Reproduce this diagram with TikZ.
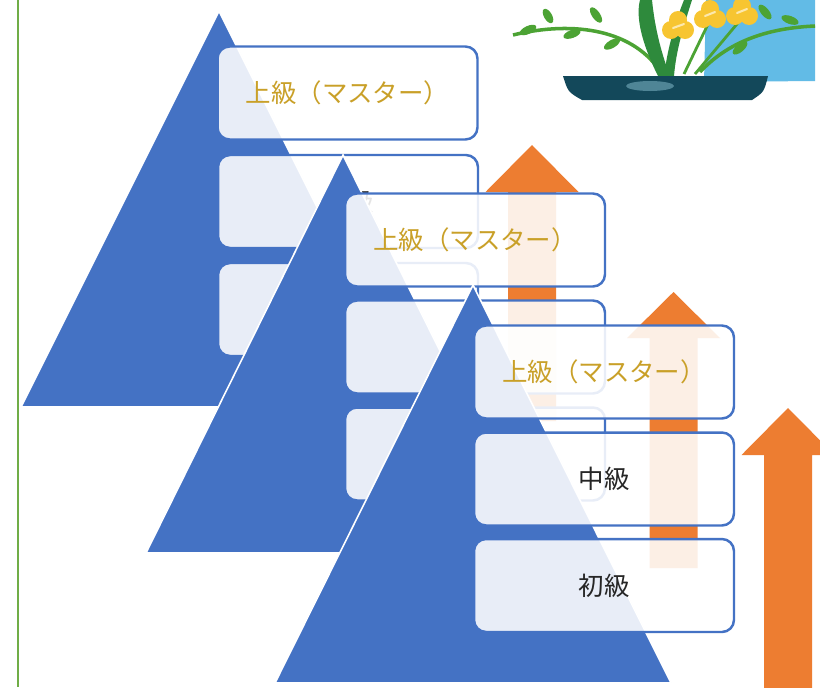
\documentclass[tikz,border=0pt]{standalone}
\usepackage{fontspec}
\newfontfamily\jp{Noto Sans CJK JP}
\usepackage{xcolor}
\usepackage{tikz}

\definecolor{pyrblue}{HTML}{4472C4}
\definecolor{arrorange}{HTML}{ED7D31}
\definecolor{gold}{HTML}{C9A028}
\definecolor{rulegreen}{HTML}{70AD47}
\definecolor{skyblue}{HTML}{62BBE6}
\definecolor{bowlteal}{HTML}{13485A}
\definecolor{bowlspot}{HTML}{4F8596}
\definecolor{stemgreen}{HTML}{4CA334}
\definecolor{bladegreen}{HTML}{2E8A3C}
\definecolor{petal}{HTML}{F7C531}

\tikzset{
	pyramid/.style={fill=pyrblue,draw=white,line width=0.9pt},
	stepbox/.style={draw=pyrblue,line width=1.4pt,fill=white,fill opacity=0.88,text opacity=1,
		rounded corners=2.4mm,minimum width=5.2cm,minimum height=1.86cm,
		font=\jp\fontsize{14.5}{17}\selectfont,text=black!85},
	master/.style={text=gold},
	upar/.style={fill=arrorange},
	leaf/.style={fill=stemgreen},
	bloom/.style={fill=petal},
}

\begin{document}
\begin{tikzpicture}[x=0.02cm,y=-0.02cm]
	\useasboundingbox (0,0) rectangle (820,687);
	\clip (0,0) rectangle (820,687);
	\fill[white] (0,0) rectangle (820,687);
	\draw[rulegreen,line width=1.4pt] (18,0) -- (18,687);

	% ikebana in the corner
	\fill[skyblue] (706,0) -- (815,0) -- (815,81) -- (704,82) -- cycle;
	\draw[stemgreen,line width=2pt] (513,35) .. controls (575,20) and (635,30) .. (662,74);
	\draw[stemgreen,line width=2pt] (700,72) .. controls (730,40) and (770,28) .. (815,26);
	\draw[stemgreen,line width=1.6pt] (672,74) -- (678,30);
	\draw[stemgreen,line width=1.6pt] (684,74) -- (710,20);
	\draw[stemgreen,line width=1.6pt] (695,74) -- (742,18);
	\fill[leaf,rotate around={25:(528,30)}] (528,30) ellipse (9 and 4);
	\fill[leaf,rotate around={-60:(548,16)}] (548,16) ellipse (8 and 4);
	\fill[leaf,rotate around={20:(572,34)}] (572,34) ellipse (9 and 4);
	\fill[leaf,rotate around={-55:(596,15)}] (596,15) ellipse (9 and 4);
	\fill[leaf,rotate around={30:(612,44)}] (612,44) ellipse (9 and 4);
	\fill[leaf,rotate around={-50:(765,12)}] (765,12) ellipse (9 and 4);
	\fill[leaf,rotate around={-20:(790,20)}] (790,20) ellipse (9 and 4);
	\fill[leaf,rotate around={40:(740,48)}] (740,48) ellipse (9 and 4);
	\fill[bladegreen] (658,76) .. controls (640,40) and (636,15) .. (640,0) -- (652,0) .. controls (655,30) and (662,55) .. (670,76) -- cycle;
	\fill[bladegreen] (664,76) .. controls (668,45) and (676,20) .. (684,0) -- (692,0) .. controls (684,25) and (676,50) .. (674,76) -- cycle;
	\fill[bloom] (671,30) circle (9) (685,30) circle (9) (678,20) circle (9);
	\fill[bloom] (703,19) circle (9) (717,19) circle (9) (710,9) circle (9);
	\fill[bloom] (735,16) circle (9) (749,16) circle (9) (742,6) circle (9);
	\draw[white!60!petal,line width=1.2pt,line cap=round] (673,28) -- (684,24);
	\draw[white!60!petal,line width=1.2pt,line cap=round] (705,16) -- (715,12);
	\draw[white!60!petal,line width=1.2pt,line cap=round] (737,13) -- (747,9);
	\fill[bowlteal] (563,76) -- (768,76) .. controls (764,92) .. (752,100) -- (582,100) .. controls (568,92) .. cycle;
	\fill[bowlspot] (650,86) ellipse (24 and 5);

	% first pyramid
	\filldraw[pyramid] (219,11) -- (417,407) -- (21,407) -- cycle;
	\node[stepbox,master] (g1top) at (347.5,93) {上級（マスター）};
	\node[stepbox] (g1mid) at (348,201.5) {中級};
	\node[stepbox] (g1low) at (348,309.5) {初級};
	\fill[upar] (532,145) -- (578.5,192) -- (556,192) -- (556,421) -- (508,421) -- (508,192) -- (485.5,192) -- cycle;

	% second pyramid
	\filldraw[pyramid] (343,155) -- (540,553) -- (146,553) -- cycle;
	\node[stepbox,master] (g2top) at (475,240) {上級（マスター）};
	\node[stepbox] (g2mid) at (475,347) {中級};
	\node[stepbox] (g2low) at (475,454) {初級};
	\fill[upar] (673.5,292) -- (720,338) -- (697.5,338) -- (697.5,568) -- (649.5,568) -- (649.5,338) -- (627,338) -- cycle;

	% third pyramid
	\filldraw[pyramid] (473,285) -- (671,683) -- (275,683) -- cycle;
	\node[stepbox,master] (g3top) at (604,372) {上級（マスター）};
	\node[stepbox] (g3mid) at (604,479) {中級};
	\node[stepbox] (g3low) at (604,585.5) {初級};
	\fill[upar] (788,408) -- (834.5,455) -- (812,455) -- (812,690) -- (764,690) -- (764,455) -- (741.5,455) -- cycle;
\end{tikzpicture}
\end{document}
